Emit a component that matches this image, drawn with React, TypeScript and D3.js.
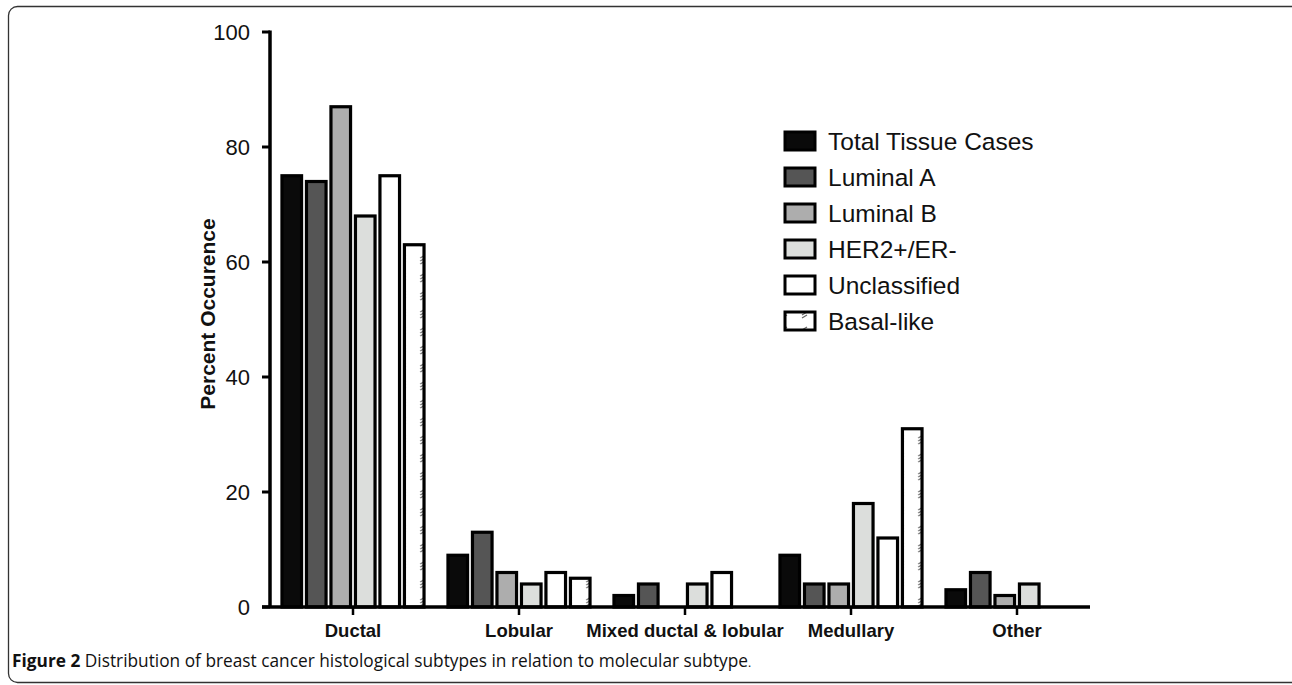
import React from "react";
import * as d3 from "d3";

const categories = ["Ductal", "Lobular", "Mixed ductal & lobular", "Medullary", "Other"];
const seriesNames = ["Total Tissue Cases", "Luminal A", "Luminal B", "HER2+/ER-", "Unclassified", "Basal-like"];

// values per series, in category order
const totalTissue = [75, 9, 2, 9, 3];
const luminalA = [74, 13, 4, 4, 6];
const luminalB = [87, 6, 0, 4, 2];
const her2 = [68, 4, 4, 18, 4];
const unclassified = [75, 6, 6, 12, 0];
const basalLike = [63, 5, 0, 31, 0];

const seriesValues = [totalTissue, luminalA, luminalB, her2, unclassified, basalLike];
const fills = ["#0a0a0a", "#555555", "#adadad", "#dcdedc", "#ffffff", "url(#hatch)"];
const yTicks = [0, 20, 40, 60, 80, 100];

const W = 1292;
const H = 685;

const App: React.FC = () => {
  const y = d3.scaleLinear().domain([0, 100]).range([607, 32]);
  const x = d3.scaleBand<string>().domain(categories).range([270, 1100]).paddingInner(0.1).paddingOuter(0.05);
  const xs = d3
    .scaleBand<string>()
    .domain(seriesNames)
    .range([0, x.bandwidth()])
    .paddingInner(0.2)
    .paddingOuter(0.15);

  const axisFont = "Arial, 'Liberation Sans', Helvetica, sans-serif";

  return (
    <svg width={W} height={H} style={{ position: "absolute", left: 0, top: 0, background: "#fff" }}>
      <defs>
        <pattern id="hatch" patternUnits="userSpaceOnUse" width="20" height="18">
          <rect width="20" height="18" fill="#fff" />
          <g stroke="#666" strokeWidth="1.2">
            <line x1="2" y1="6" x2="7" y2="3" />
            <line x1="2" y1="9" x2="7" y2="6" />
            <line x1="2" y1="12" x2="7" y2="9" />
          </g>
        </pattern>
      </defs>

      {/* figure frame */}
      <rect x={8.5} y={6.5} width={1300} height={676} rx={9} fill="none" stroke="#333" strokeWidth={1.3} />

      {/* bars */}
      {categories.map((c, ci) => (
        <g key={c} transform={`translate(${x(c)},0)`}>
          {seriesNames.map((s, si) => {
            const v = seriesValues[si][ci];
            if (v <= 0) return null;
            return (
              <rect
                key={s}
                x={xs(s)}
                y={y(v)}
                width={xs.bandwidth()}
                height={y(0) - y(v)}
                fill={fills[si]}
                stroke="#000"
                strokeWidth={3.2}
              />
            );
          })}
        </g>
      ))}

      {/* y axis */}
      <line x1={270} x2={270} y1={y(100) - 1.5} y2={y(0)} stroke="#000" strokeWidth={3.5} />
      {yTicks.map(t => (
        <g key={t}>
          <line x1={262} x2={270} y1={y(t)} y2={y(t)} stroke="#000" strokeWidth={3} />
          <text x={250} y={y(t)} dy="0.35em" textAnchor="end" fontFamily={axisFont} fontSize={22} fill="#111">
            {t}
          </text>
        </g>
      ))}
      <text
        transform={`translate(215,${314}) rotate(-90)`}
        textAnchor="middle"
        fontFamily={axisFont}
        fontWeight="bold"
        fontSize={21}
        fill="#111"
      >
        Percent Occurence
      </text>

      {/* x axis */}
      <line x1={262} x2={1090} y1={y(0)} y2={y(0)} stroke="#000" strokeWidth={3.5} />
      {categories.map(c => {
        const cx = (x(c) as number) + x.bandwidth() / 2;
        return (
          <g key={c}>
            <line x1={cx} x2={cx} y1={y(0)} y2={y(0) + 8} stroke="#000" strokeWidth={2.5} />
            <text x={cx} y={637} textAnchor="middle" fontFamily={axisFont} fontWeight="bold" fontSize={18.5} fill="#111">
              {c}
            </text>
          </g>
        );
      })}

      {/* legend */}
      {seriesNames.map((s, i) => {
        const ly = 141 + i * 36;
        return (
          <g key={s}>
            <rect x={785} y={ly - 9} width={30} height={18} fill={fills[i]} stroke="#000" strokeWidth={3} />
            <text x={828} y={ly} dy="0.36em" fontFamily={axisFont} fontSize={24.5} fill="#111">
              {s}
            </text>
          </g>
        );
      })}

      {/* caption */}
      <text x={12} y={667} fontFamily="'Open Sans', 'Noto Sans', sans-serif" fontSize={17.3} fill="#111">
        <tspan fontWeight="bold">Figure 2</tspan>
        <tspan> Distribution of breast cancer histological subtypes in relation to molecular subtype</tspan>
        <tspan fontSize={12}>.</tspan>
      </text>
    </svg>
  );
};

export default App;
